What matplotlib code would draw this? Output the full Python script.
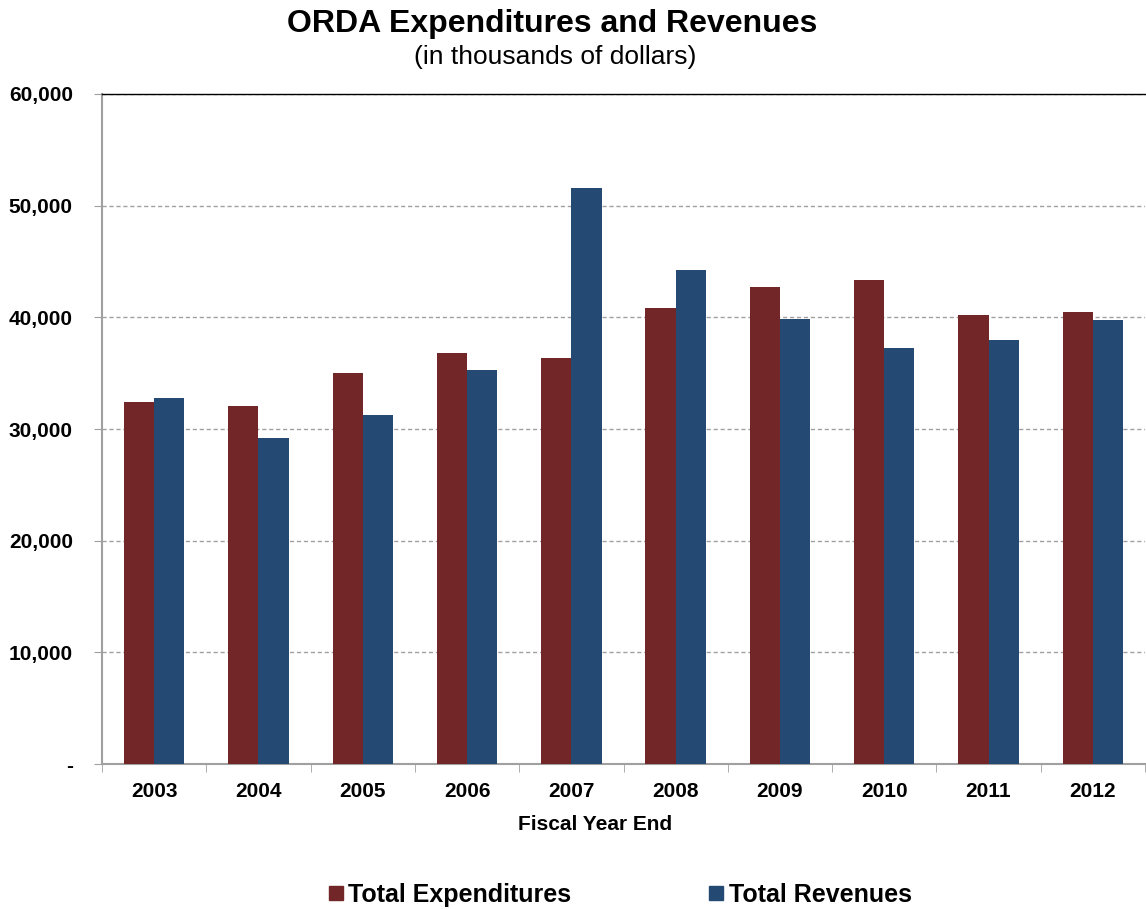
import numpy as np
import matplotlib.pyplot as plt
from matplotlib.ticker import FuncFormatter, FixedLocator
from matplotlib.lines import Line2D

plt.rcParams['font.family'] = ['Liberation Sans', 'DejaVu Sans']

years = ['2003', '2004', '2005', '2006', '2007', '2008', '2009', '2010', '2011', '2012']
expenditures = [32410, 32050, 35000, 36800, 36350, 40820, 42700, 43330, 40200, 40470]
revenues = [32770, 29190, 31240, 35270, 51570, 44230, 39840, 37240, 37960, 39750]

exp_color = '#732627'
rev_color = '#244a73'

fig = plt.figure(figsize=(11.46, 9.09), dpi=100)
ax = fig.add_axes([102 / 1146, 1 - 764 / 909, 1043 / 1146, 670 / 909])

x = np.arange(len(years))
w = 0.29
ax.bar(x - w / 2, expenditures, w, color=exp_color, zorder=3)
ax.bar(x + w / 2, revenues, w, color=rev_color, zorder=3)

ax.set_xlim(-0.5, len(years) - 0.5)
ax.set_ylim(0, 60000)
ax.set_yticks(np.arange(0, 60001, 10000))
ax.yaxis.set_major_formatter(FuncFormatter(lambda v, p: '-' if v == 0 else '{:,.0f}'.format(v)))
ax.set_xticks(x)
ax.set_xticklabels(years)
ax.xaxis.set_minor_locator(FixedLocator(np.arange(-0.5, len(years), 1)))
ax.tick_params(axis='x', which='major', length=0, pad=13)
ax.tick_params(axis='x', which='minor', length=6, color='#a0a0a0', direction='out')
ax.tick_params(axis='y', length=6, color='#a0a0a0', pad=15)
for lab in ax.get_xticklabels() + ax.get_yticklabels():
    lab.set_fontweight('bold')
    lab.set_fontsize(15)

ax.grid(axis='y', linestyle=(0, (3, 2)), color='#a0a0a0', linewidth=1, zorder=0)
for s in ['left', 'bottom']:
    ax.spines[s].set_color('#a0a0a0')
    ax.spines[s].set_linewidth(1.5)
ax.spines['right'].set_visible(False)
ax.spines['top'].set_color('black')
ax.spines['top'].set_linewidth(1)

fig.text(595 / 1146, 1 - 825 / 909, 'Fiscal Year End', ha='center', va='center',
         fontsize=15, fontweight='bold')

fig.text(552 / 1146, 1 - 24 / 909, 'ORDA Expenditures and Revenues', ha='center', va='center',
         fontsize=23, fontweight='bold')
fig.text(555 / 1146, 1 - 57 / 909, '(in thousands of dollars)', ha='center', va='center', fontsize=19)

handles = [Line2D([], [], marker='s', linestyle='none', markersize=9.5, color=exp_color),
           Line2D([], [], marker='s', linestyle='none', markersize=9.5, color=rev_color)]
fig.legend(handles, ['Total Expenditures', 'Total Revenues'], loc='center',
           bbox_to_anchor=(620 / 1146, 1 - 895 / 909), ncol=2, frameon=False, columnspacing=5.5,
           handlelength=0.6, handletextpad=0.2, prop={'weight': 'bold', 'size': 18})

fig.savefig('out.png')
